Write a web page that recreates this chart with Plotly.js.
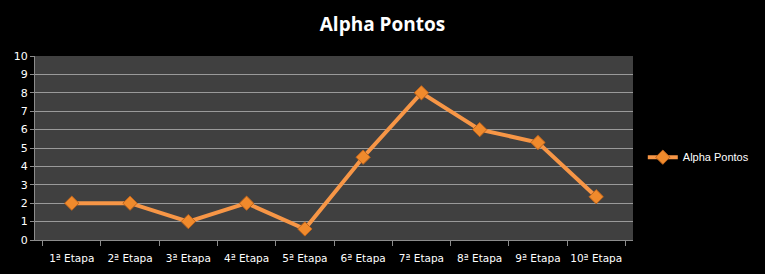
<!DOCTYPE html>
<html>
<head>
<meta charset="utf-8">
<script src="https://cdn.plot.ly/plotly-3.0.1.min.js"></script>
<style>html,body{margin:0;padding:0;background:#000;}#chart{width:765px;height:274px;}</style>
</head>
<body>
<div id="chart"></div>
<script>
const categories = ["1ª Etapa","2ª Etapa","3ª Etapa","4ª Etapa","5ª Etapa","6ª Etapa","7ª Etapa","8ª Etapa","9ª Etapa","10ª Etapa"];
const seriesName = "Alpha Pontos";
const values = [2, 2, 1, 2, 0.6, 4.5, 8, 6, 5.3, 2.35];
const yTicks = [0,1,2,3,4,5,6,7,8,9,10];

const trace = {
  x: categories,
  y: values,
  name: seriesName,
  type: "scatter",
  mode: "lines+markers",
  line: {color: "#f79646", width: 4},
  marker: {symbol: "diamond", size: 11, color: "#f08a2c", line: {color: "#c0651c", width: 1}}
};

const tickFontFamily = "DejaVu Sans, Tahoma, sans-serif";

const layout = {
  width: 765, height: 274,
  paper_bgcolor: "#000000",
  plot_bgcolor: "#404040",
  margin: {l: 35, r: 131, t: 56, b: 34},
  title: {text: "<b>Alpha Pontos</b>", x: 0.5, xanchor: "center", y: 0.91, yanchor: "middle",
          font: {family: "Open Sans, Calibri, sans-serif", size: 19, color: "#ffffff"}},
  font: {family: tickFontFamily, size: 10, color: "#ffffff"},
  showlegend: true,
  legend: {x: 1.2, y: 0.45, xanchor: "right", yanchor: "middle", bgcolor: "rgba(0,0,0,0)",
           itemwidth: 30,
           font: {family: "Liberation Sans, Arial, sans-serif", size: 11, color: "#ffffff"}},
  xaxis: {
    type: "category",
    tickson: "boundaries",
    tickangle: 0,
    ticks: "outside", ticklen: 5, tickcolor: "#8c8c8c",
    ticklabelstandoff: 8,
    showline: true, linecolor: "#8c8c8c", linewidth: 1,
    showgrid: false, zeroline: false,
    tickfont: {family: tickFontFamily, size: 10.5, color: "#ffffff"},
    fixedrange: true
  },
  yaxis: {
    range: [0, 10],
    tickvals: yTicks,
    ticks: "outside", ticklen: 4, tickcolor: "#8c8c8c",
    showline: true, linecolor: "#8c8c8c", linewidth: 1,
    showgrid: true, gridcolor: "#9a9a9a", gridwidth: 1,
    zeroline: false,
    tickfont: {family: tickFontFamily, size: 11, color: "#ffffff"},
    fixedrange: true
  }
};

Plotly.newPlot("chart", [trace], layout, {staticPlot: true, displayModeBar: false});
</script>
</body>
</html>
